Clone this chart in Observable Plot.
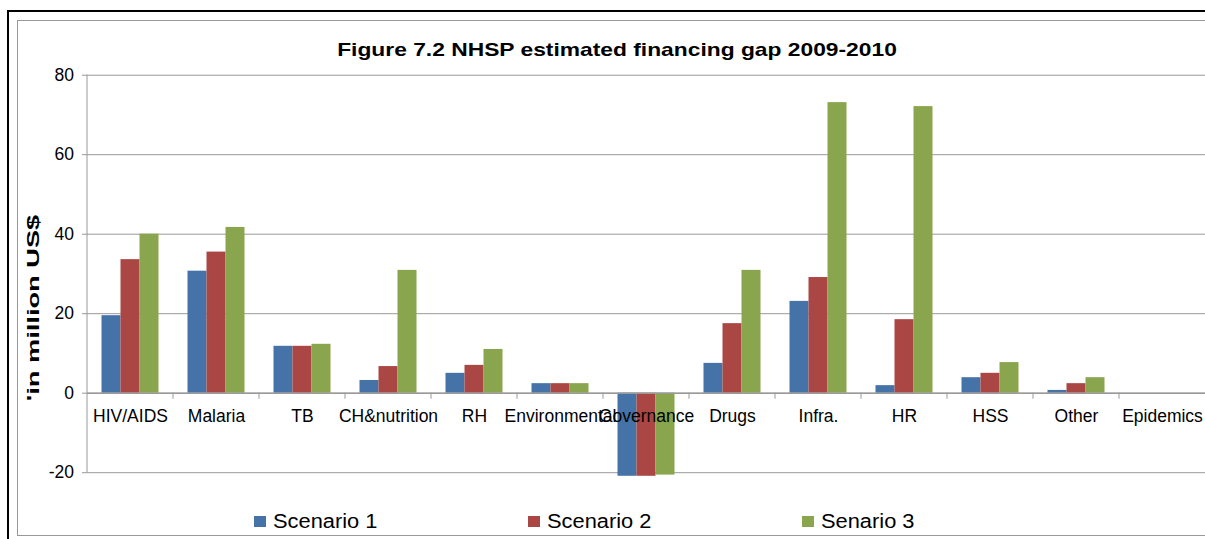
<!DOCTYPE html>
<html>
<head>
<meta charset="utf-8">
<script src="https://cdn.jsdelivr.net/npm/d3@7"></script>
<script src="https://cdn.jsdelivr.net/npm/@observablehq/plot@0.6"></script>
<style>
  html, body { margin: 0; padding: 0; background: #fff; overflow: hidden; width: 1205px; height: 539px; }
  #wrap { position: relative; width: 1205px; height: 539px; overflow: hidden; font-family: "Liberation Sans", Arial, sans-serif; color: #000; }
  .abs { position: absolute; }
  #chart { width: 1210px; height: 539px; }
  #chart svg { max-width: none !important; }
  #title { left: 617px; top: 40px; font-size: 19px; line-height: 19px; font-weight: bold; white-space: nowrap; transform: translateX(-50%) scaleX(1.2); }
  #ylabel { left: 33px; top: 308px; font-size: 16.5px; line-height: 16px; font-weight: bold; white-space: nowrap; transform: translate(-50%, -50%) rotate(-90deg) scaleX(1.65); }
  .leg-sw { width: 12px; height: 11px; }
  .leg-tx { font-size: 19.5px; line-height: 20px; white-space: nowrap; transform-origin: left top; transform: scaleX(1.12); }
</style>
</head>
<body>
<div id="wrap">
  <div class="abs" style="left:7px;top:10px;width:2px;height:540px;background:#000;"></div>
  <div class="abs" style="left:7px;top:10px;width:1210px;height:2px;background:#000;"></div>
  <div class="abs" style="left:17px;top:20px;width:1px;height:516px;background:#999;"></div>
  <div class="abs" style="left:17px;top:20px;width:1200px;height:1px;background:#999;"></div>
  <div class="abs" style="left:17px;top:535px;width:1200px;height:1px;background:#999;"></div>
  <div id="chart" class="abs" style="left:0;top:0;"></div>
  <div id="title" class="abs"></div>
  <div id="ylabel" class="abs"></div>
  <div id="legend"></div>
</div>
<script>
const titleText = "Figure 7.2 NHSP estimated financing gap 2009-2010";
const yLabel = "'in million US$";
const categories = ["HIV/AIDS", "Malaria", "TB", "CH&nutrition", "RH", "Environmental", "Governance", "Drugs", "Infra.", "HR", "HSS", "Other", "Epidemics"];
const series = ["Scenario 1", "Scenario 2", "Senario 3"];
const scenario1 = [19.5, 30.7, 11.8, 3.2, 5.0, 2.4, -20.9, 7.5, 23.1, 1.9, 3.9, 0.7, 0];
const scenario2 = [33.6, 35.5, 11.8, 6.7, 7.0, 2.4, -20.9, 17.5, 29.1, 18.5, 5.0, 2.4, 0];
const scenario3 = [40.0, 41.7, 12.3, 30.9, 11.0, 2.4, -20.6, 30.9, 73.1, 72.1, 7.7, 3.9, 0];
const colors = ["#4572A7", "#AA4643", "#89A54E"];
const yTicks = [-20, 0, 20, 40, 60, 80];
const yTickLabels = ["-20", "0", "20", "40", "60", "80"];

const valuesBySeries = [scenario1, scenario2, scenario3];
const data = categories.flatMap((c, i) => series.map((s, j) => ({category: c, series: s, value: valuesBySeries[j][i]})));

const font = "'Liberation Sans', Arial, sans-serif";
const chart = Plot.plot({
  width: 1210,
  height: 539,
  marginLeft: 85.5,
  marginRight: 4,
  marginTop: 74.7,
  marginBottom: 66.8,
  style: {fontFamily: font, fontSize: "17.5px", color: "#000", background: "transparent", overflow: "visible", maxWidth: "none"},
  fx: {domain: categories, padding: 0, axis: null},
  x: {domain: series, paddingInner: 0, paddingOuter: 0.655, axis: null},
  y: {domain: [-20, 80]},
  color: {domain: series, range: colors},
  marks: [
    Plot.ruleY(yTicks, {stroke: "#999", strokeWidth: 1}),
    Plot.barY(data, {fx: "category", x: "series", y: "value", fill: "series"}),
    Plot.ruleY([0], {stroke: "#999", strokeWidth: 1.5}),
    Plot.text(categories, {fx: d => d, y: d => 0, text: d => d, dy: 23, fontSize: 17.5, fill: "#000"}),
    Plot.axisY({ticks: yTicks, tickSize: 5, tickPadding: 8.5, fontSize: 17.5, stroke: "#999", fill: "#000", label: null,
      tickFormat: d => yTickLabels[yTicks.indexOf(d)]})
  ]
});
document.getElementById("chart").appendChild(chart);

// axis line and category tick marks drawn from the plot's own scales
const fx = chart.scale("fx");
const y = chart.scale("y");
const svg = d3.select(chart);
const g = svg.append("g").attr("stroke", "#999").attr("stroke-width", 1);
const x0 = fx.apply(categories[0]);
g.append("line").attr("x1", x0).attr("x2", x0).attr("y1", y.apply(80)).attr("y2", y.apply(-20));
categories.slice(1).forEach(c => {
  const xx = fx.apply(c);
  g.append("line").attr("x1", xx).attr("x2", xx).attr("y1", y.apply(0)).attr("y2", y.apply(0) + 6);
});

document.getElementById("title").textContent = titleText;
document.getElementById("ylabel").textContent = yLabel;

const legend = document.getElementById("legend");
series.forEach((s, i) => {
  const left = 254 + i * 274;
  const sw = document.createElement("div");
  sw.className = "abs leg-sw";
  sw.style.left = left + "px";
  sw.style.top = "516px";
  sw.style.background = colors[i];
  legend.appendChild(sw);
  const tx = document.createElement("div");
  tx.className = "abs leg-tx";
  tx.style.left = (left + 19) + "px";
  tx.style.top = "510.5px";
  tx.textContent = s;
  legend.appendChild(tx);
});
</script>
</body>
</html>
